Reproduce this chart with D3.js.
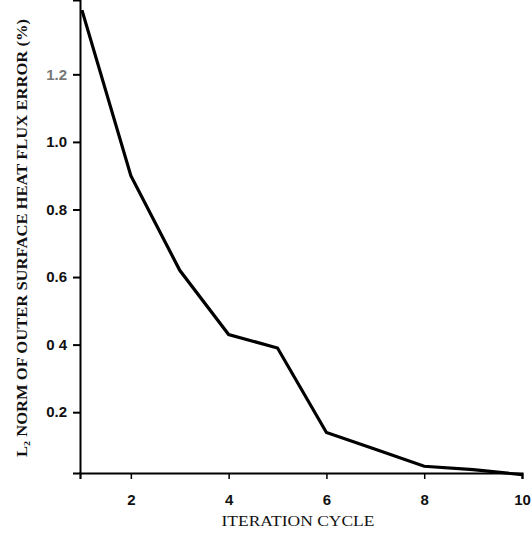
<!DOCTYPE html>
<html><head><meta charset="utf-8">
<script src="https://cdn.jsdelivr.net/npm/d3@7"></script>
<style>body{margin:0;background:#fff}svg{display:block}</style>
</head><body>
<svg id="c" width="532" height="538"></svg>
<script>
const cycles = [1, 2, 3, 4, 5, 6, 7, 8, 9, 10];
const errorPct = [1.39, 0.90, 0.62, 0.43, 0.39, 0.14, 0.09, 0.04, 0.03, 0.015];
const xTicks = [2, 4, 6, 8, 10];
const yTicks = [0.2, 0.4, 0.6, 0.8, 1.0, 1.2];
const yTickLabels = ["0.2", "0 4", "0.6", "0.8", "1.0", "1.2"];
const xTitle = "ITERATION CYCLE";
const yTitle = "L\u2082 NORM OF OUTER SURFACE HEAT FLUX ERROR (%)";

const svg = d3.select("#c");
const x = d3.scaleLinear().domain([0.96, 10]).range([80, 522]);
const y = d3.scaleLinear().domain([0.02, 1.42]).range([473, 0]);

// axes
const xAxis = d3.axisBottom(x).tickValues(xTicks).tickSize(6).tickPadding(15).tickFormat(d3.format("d"));
const gx = svg.append("g").attr("transform", "translate(0,473)").call(xAxis);
gx.select(".domain").attr("stroke", "#000").attr("stroke-width", 2.2);
gx.selectAll(".tick line").attr("stroke-width", 1.5);
gx.selectAll(".tick text").attr("font-family", "Liberation Sans, Arial, sans-serif")
  .attr("font-size", 15).attr("font-weight", "bold").attr("fill", "#111");

const yAxis = d3.axisLeft(y).tickValues(yTicks).tickSize(7).tickPadding(6)
  .tickFormat((d, i) => yTickLabels[i]);
const gy = svg.append("g").attr("transform", "translate(80,0)").call(yAxis);
gy.select(".domain").attr("stroke", "#000").attr("stroke-width", 2);
gy.selectAll(".tick line").attr("stroke-width", 2);
gy.selectAll(".tick text").attr("font-family", "Liberation Sans, Arial, sans-serif")
  .attr("font-size", 15).attr("font-weight", "bold").attr("fill", "#111");
gy.selectAll(".tick").filter(d => d === 1.2).select("text").attr("fill", "#777");

// line
const line = d3.line().x((d, i) => x(cycles[i])).y(d => y(d));
svg.append("path").datum(errorPct).attr("d", line)
  .attr("fill", "none").attr("stroke", "#000").attr("stroke-width", 3.2)
  .attr("stroke-linejoin", "miter");

// titles
svg.append("text").attr("x", 298).attr("y", 526).attr("text-anchor", "middle")
  .attr("font-family", "Liberation Serif, Times New Roman, serif").attr("font-size", 14)
  .attr("fill", "#111").attr("textLength", 153).attr("lengthAdjust", "spacingAndGlyphs")
  .text(xTitle);
svg.append("text").attr("transform", "translate(27,238) rotate(-90)").attr("text-anchor", "middle")
  .attr("font-family", "Liberation Serif, Times New Roman, serif").attr("font-size", 14)
  .attr("font-weight", "bold")
  .attr("fill", "#111").attr("textLength", 438).attr("lengthAdjust", "spacingAndGlyphs")
  .text(yTitle);
</script>
</body></html>
